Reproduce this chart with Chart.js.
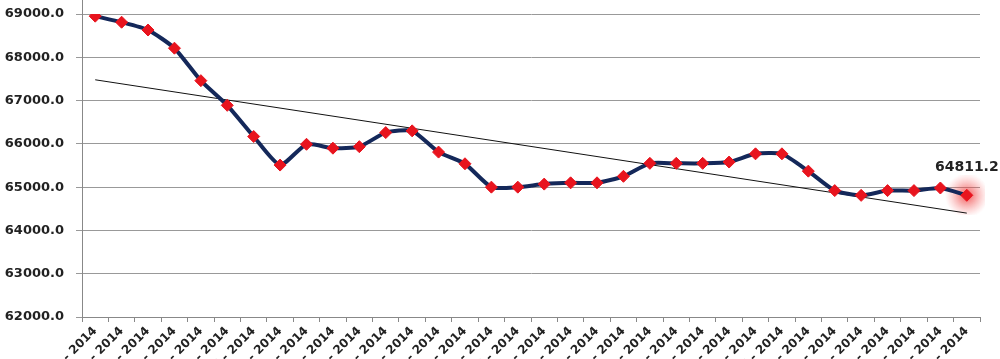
<!DOCTYPE html>
<html>
<head>
<meta charset="utf-8">
<script src="https://cdn.jsdelivr.net/npm/chart.js@4/dist/chart.umd.min.js"></script>
<style>
  html, body { margin: 0; padding: 0; background: #fff; overflow: hidden; }
  #wrap { width: 1000px; height: 400px; position: relative; }
</style>
</head>
<body>
<div id="wrap"><canvas id="chart"></canvas></div>
<script>
// categories (weeks of 2014)
var labels = ['01 - 2014', '02 - 2014', '03 - 2014', '04 - 2014', '05 - 2014', '06 - 2014', '07 - 2014',
    '08 - 2014', '09 - 2014', '10 - 2014', '11 - 2014', '12 - 2014', '13 - 2014', '14 - 2014',
    '15 - 2014', '16 - 2014', '17 - 2014', '18 - 2014', '19 - 2014', '20 - 2014', '21 - 2014',
    '22 - 2014', '23 - 2014', '24 - 2014', '25 - 2014', '26 - 2014', '27 - 2014', '28 - 2014',
    '29 - 2014', '30 - 2014', '31 - 2014', '32 - 2014', '33 - 2014', '34 - 2014'];

var values = [68950, 68810, 68630, 68210, 67460, 66890, 66170, 65510, 65990, 65900, 65935, 66260,
    66300, 65810, 65540, 65000, 65000, 65070, 65100, 65100, 65250, 65550, 65550, 65550, 65580,
    65770, 65770, 65370, 64920, 64810, 64920, 64920, 64980, 64811.2];

// trend line end values (first and last category)
var trendEnds = [67480, 64400];

var yTicks = [62000, 63000, 64000, 65000, 66000, 67000, 68000, 69000];

document.addEventListener('DOMContentLoaded', function () {
    var ctx = document.getElementById('chart').getContext('2d');
    var last = values.length - 1;

    var trend = labels.map(function (l, i) {
        if (i === 0) return trendEnds[0];
        if (i === last) return trendEnds[1];
        return null;
    });
    var glow = labels.map(function (l, i) { return i === last ? values[last] : null; });

    // soft red halo for the last point
    var halo = document.createElement('canvas');
    halo.width = 50; halo.height = 40;
    var h = halo.getContext('2d');
    var g = h.createRadialGradient(25, 20, 2, 25, 20, 22);
    g.addColorStop(0, 'rgba(240,60,60,0.75)');
    g.addColorStop(0.5, 'rgba(240,80,80,0.35)');
    g.addColorStop(1, 'rgba(255,120,120,0)');
    h.fillStyle = g;
    h.fillRect(0, 0, 50, 40);

    var extras = {
        id: 'extras',
        afterDatasetsDraw: function (chart) {
            var pt = chart.getDatasetMeta(2).data[last];
            var c = chart.ctx;
            var a = chart.chartArea;
            c.save();
            // y axis line runs up to the top edge
            c.strokeStyle = '#888';
            c.lineWidth = 1;
            c.beginPath();
            c.moveTo(a.left + 0.5, 0);
            c.lineTo(a.left + 0.5, a.top);
            c.stroke();
            // value label on the last point
            c.font = 'bold 14px "DejaVu Sans"';
            c.fillStyle = '#222';
            c.textAlign = 'center';
            c.textBaseline = 'middle';
            c.fillText(values[last].toFixed(1), pt.x, pt.y - 28);
            c.restore();
        }
    };

    new Chart(ctx, {
        type: 'line',
        data: {
            labels: labels,
            datasets: [{
                label: 'glow',
                data: glow,
                pointStyle: halo,
                showLine: false,
                order: 3
            }, {
                label: 'trend',
                data: trend,
                spanGaps: true,
                borderColor: '#111',
                borderWidth: 1,
                pointRadius: 0,
                order: 2
            }, {
                label: 'values',
                data: values,
                borderColor: '#14285a',
                borderWidth: 4,
                tension: 0.2,
                pointStyle: 'rectRot',
                pointRadius: 6,
                pointBackgroundColor: '#e8141e',
                pointBorderColor: '#e8141e',
                pointBorderWidth: 1,
                order: 1
            }]
        },
        options: {
            responsive: true,
            maintainAspectRatio: false,
            animation: false,
            layout: { padding: { top: 14, right: 20, left: 0, bottom: 0 } },
            plugins: {
                legend: { display: false },
                tooltip: { enabled: false }
            },
            scales: {
                x: {
                    offset: true,
                    afterFit: function (s) { s.height = 83; },
                    grid: {
                        offset: true,
                        drawOnChartArea: false,
                        color: '#888',
                        tickLength: 5
                    },
                    border: { color: '#888' },
                    ticks: {
                        autoSkip: false,
                        minRotation: 45,
                        maxRotation: 45,
                        padding: 2,
                        color: '#222',
                        font: { family: '"DejaVu Sans"', size: 12, weight: 'bold' }
                    }
                },
                y: {
                    min: yTicks[0],
                    max: yTicks[yTicks.length - 1],
                    afterFit: function (s) {
                        s.width = 82;
                        s.paddingTop = 0;
                        s.paddingBottom = 0;
                    },
                    afterBuildTicks: function (s) {
                        s.ticks = yTicks.map(function (v) { return { value: v }; });
                    },
                    grid: { color: '#999', tickLength: 6, lineWidth: 1 },
                    border: { color: '#888' },
                    ticks: {
                        padding: 12,
                        color: '#222',
                        font: { family: '"DejaVu Sans"', size: 13, weight: 'bold' },
                        callback: function (v) { return Number(v).toFixed(1); }
                    }
                }
            }
        },
        plugins: [extras]
    });
});
</script>
</body>
</html>
